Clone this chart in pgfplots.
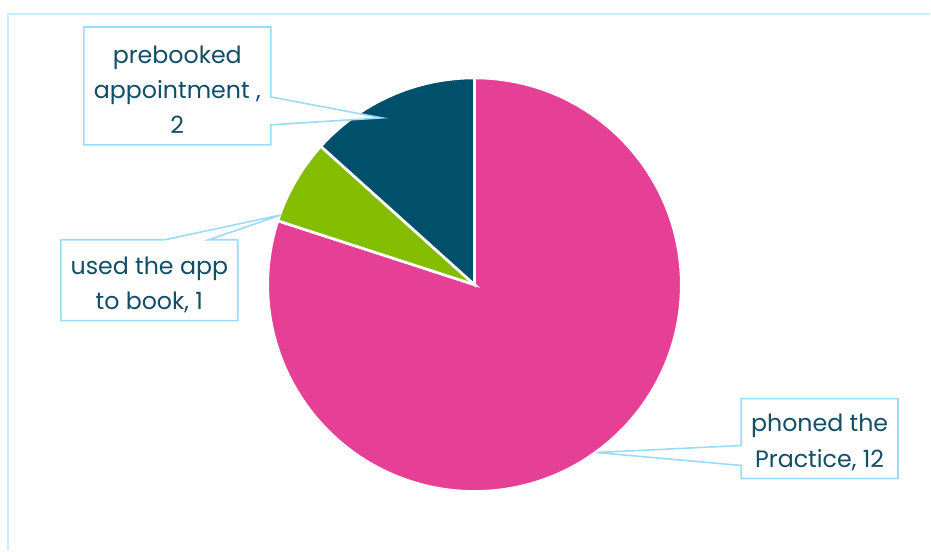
\documentclass[border=0pt]{standalone}
\usepackage{pgfplots}
\pgfplotsset{compat=1.18}
\usepackage{fontspec}
\setmainfont{Poppins}
\definecolor{piepink}{HTML}{E63F96}
\definecolor{piegreen}{HTML}{84BD00}
\definecolor{pieteal}{HTML}{00506B}
\definecolor{txt}{HTML}{124E66}
\definecolor{frame}{HTML}{C8ECFA}
\definecolor{callout}{HTML}{9ADCF8}
% data: phoned the Practice, used the app to book, prebooked appointment
\def\vA{12}\def\vB{1}\def\vC{2}
\pgfmathsetmacro\tot{\vA+\vB+\vC}
\pgfmathsetmacro\aA{90-360*\vA/\tot}
\pgfmathsetmacro\aB{\aA-360*\vB/\tot}
\pgfmathsetmacro\aC{\aB-360*\vC/\tot}
\def\R{155.25pt}
\begin{document}
\begin{tikzpicture}
\begin{axis}[
  scale only axis, width=698.25pt, height=413.25pt,
  xmin=0, xmax=931, ymin=0, ymax=551,
  hide axis, clip=false,
]
\addplot[draw=none] coordinates {(0,0) (931,551)};
\draw[frame, line width=1.5pt] (axis cs:931,537) -- (axis cs:8,537) -- (axis cs:8,0);
\fill[piepink, draw=white, line width=2pt] (axis cs:475,266) -- ++(90:\R) arc[start angle=90, end angle=\aA, radius=\R] -- cycle;
\fill[piegreen, draw=white, line width=2pt] (axis cs:475,266) -- ++(\aA:\R) arc[start angle=\aA, end angle=\aB, radius=\R] -- cycle;
\fill[pieteal, draw=white, line width=2pt] (axis cs:475,266) -- ++(\aB:\R) arc[start angle=\aB, end angle=\aC, radius=\R] -- cycle;
% callouts
\filldraw[fill=white, draw=callout, line width=1.2pt] (axis cs:84,524) -- (axis cs:271,524) -- (axis cs:271,454) -- (axis cs:382,433) -- (axis cs:271,426) -- (axis cs:271,406) -- (axis cs:84,406) -- cycle;
\filldraw[fill=white, draw=callout, line width=1.2pt] (axis cs:61,311) -- (axis cs:165,311) -- (axis cs:282,336) -- (axis cs:209,311) -- (axis cs:238,311) -- (axis cs:238,230) -- (axis cs:61,230) -- cycle;
\filldraw[fill=white, draw=callout, line width=1.2pt] (axis cs:742,152) -- (axis cs:899,152) -- (axis cs:899,72) -- (axis cs:742,72) -- (axis cs:742,85) -- (axis cs:597,98) -- (axis cs:742,105) -- cycle;
\node[txt, align=center, font=\fontsize{17.8}{26.5}\selectfont] at (axis cs:177.5,461) {prebooked\\appointment ,\\2};
\node[txt, align=center, font=\fontsize{17.8}{26.5}\selectfont] at (axis cs:149.5,266) {used the app\\to book, 1};
\node[txt, align=center, font=\fontsize{17.8}{26.5}\selectfont] at (axis cs:820.5,108) {phoned the\\Practice, 12};
\end{axis}
\end{tikzpicture}
\end{document}
